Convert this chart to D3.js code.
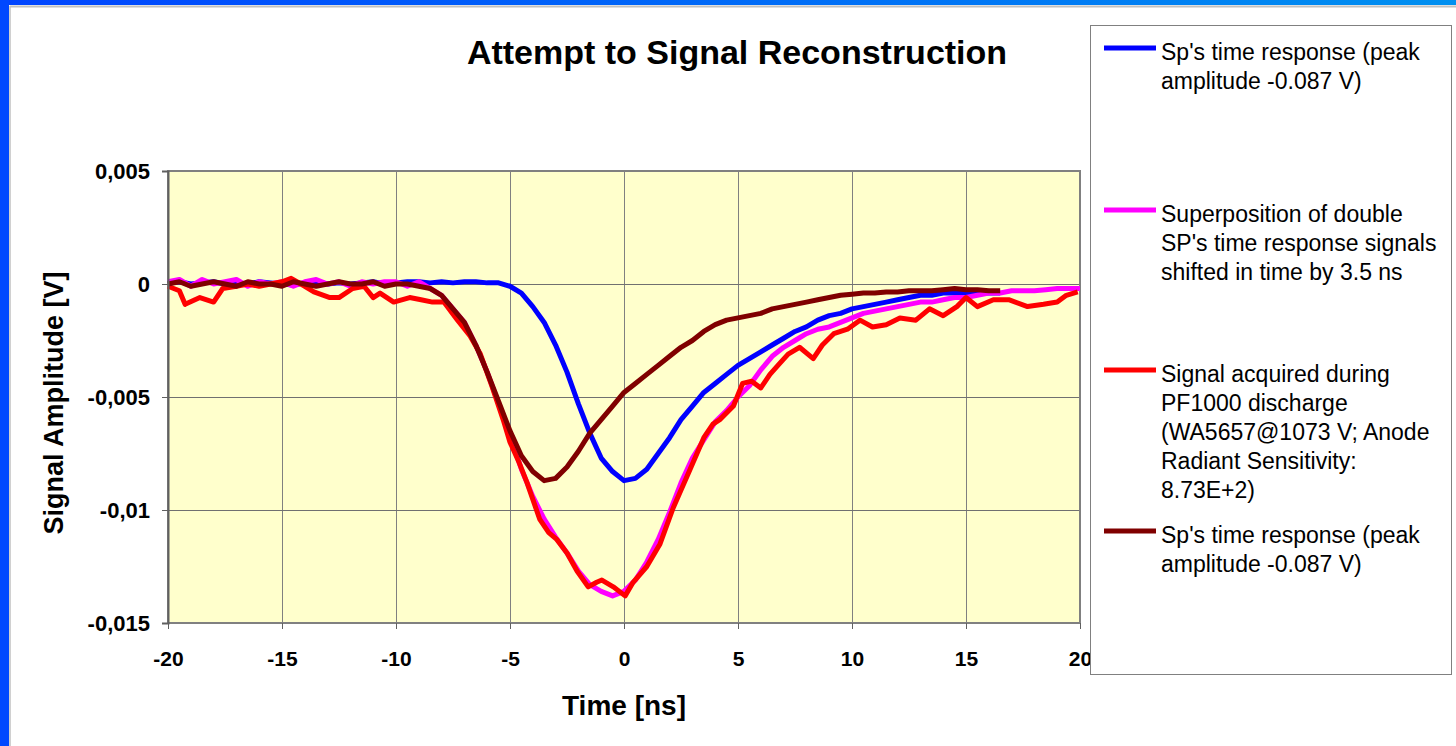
<!DOCTYPE html>
<html lang="en">
	<head>
		<meta charset="utf-8">
		<title>Attempt to Signal Reconstruction</title>
		<script src="https://d3js.org/d3.v7.min.js" charset="utf-8"></script>
		<style type="text/css">
			body { margin: 0; background: #fff; }
			text { font-family: "Liberation Sans", Arial, sans-serif; }
		</style>
	</head>
	<body>
		<div id="main"></div>

		<script type="text/javascript">

			// [time ns, amplitude V]
			var spResponse = [
				[-20,0.00005],[-19.5,0.0001],[-19,0],[-18.5,0.00005],[-18,0.0001],[-17.5,0],[-17,0.00005],[-16.5,0],
				[-16,0.0001],[-15.5,0.00005],[-15,0],[-14.5,-0.00005],[-14,0.00005],[-13.5,0.0001],[-13,0],[-12.5,0.00005],
				[-12,0],[-11.5,0.00005],[-11,0.0001],[-10.5,0],[-10,0.00005],[-9.5,0.0001],[-9,0.0001],[-8.5,0.00005],
				[-8,0.0001],[-7.5,0.00005],[-7,0.0001],[-6.5,0.0001],[-6,0.00005],[-5.5,0.00005],[-5,-0.0001],[-4.5,-0.0004],
				[-4,-0.001],[-3.5,-0.0017],[-3,-0.0027],[-2.5,-0.0039],[-2,-0.0053],[-1.5,-0.0066],[-1,-0.0077],[-0.5,-0.0083],
				[0,-0.0087],[0.5,-0.0086],[1,-0.0082],[1.5,-0.0075],[2,-0.0068],[2.5,-0.006],[3,-0.0054],[3.5,-0.0048],
				[4,-0.0044],[4.5,-0.004],[5,-0.0036],[5.5,-0.0033],[6,-0.003],[6.5,-0.0027],[7,-0.0024],[7.5,-0.0021],
				[8,-0.0019],[8.5,-0.0016],[9,-0.0014],[9.5,-0.0013],[10,-0.0011],[10.5,-0.001],[11,-0.0009],[11.5,-0.0008],
				[12,-0.0007],[12.5,-0.0006],[13,-0.0005],[13.5,-0.0005],[14,-0.0004],[14.5,-0.0004],[15,-0.0004],[15.5,-0.0004],
				[16,-0.0004],[16.5,-0.0004]
			];

			var superposition = [
				[-20,0.0001],[-19.5,0.0002],[-19,-0.0001],[-18.5,0.0002],[-18,0],[-17.5,0.0001],[-17,0.0002],[-16.5,-0.0001],
				[-16,0.0001],[-15.5,0],[-15,0.0001],[-14.5,-0.0001],[-14,0.0001],[-13.5,0.0002],[-13,0],[-12.5,0.0001],
				[-12,-0.0001],[-11.5,0.0001],[-11,0],[-10.5,0.0001],[-10,0.0001],[-9.5,-0.0001],[-9,0.0001],[-8.5,-0.0002],
				[-8,-0.0005],[-7.5,-0.0011],[-7,-0.0017],[-6.5,-0.0027],[-6,-0.0039],[-5.5,-0.0053],[-5,-0.0067],[-4.5,-0.0082],
				[-4,-0.0094],[-3.5,-0.0104],[-3,-0.0112],[-2.5,-0.0119],[-2,-0.0127],[-1.5,-0.0133],[-1,-0.0136],[-0.5,-0.0138],
				[0,-0.0136],[0.5,-0.0131],[1,-0.0123],[1.5,-0.0113],[2,-0.0101],[2.5,-0.0088],[3,-0.0077],[3.5,-0.0069],
				[4,-0.0061],[4.5,-0.0056],[5,-0.005],[5.5,-0.0045],[6,-0.0038],[6.5,-0.0032],[7,-0.0028],[7.5,-0.0025],
				[8,-0.0022],[8.5,-0.002],[9,-0.0019],[9.5,-0.0017],[10,-0.0015],[10.5,-0.0013],[11,-0.0012],[11.5,-0.0011],
				[12,-0.001],[12.5,-0.0009],[13,-0.0008],[13.5,-0.0008],[14,-0.0007],[14.5,-0.0006],[15,-0.0006],[15.5,-0.0005],
				[16,-0.0004],[16.5,-0.0004],[17,-0.0003],[17.5,-0.0003],[18,-0.0003],[18.5,-0.00025],[19,-0.0002],[19.5,-0.0002],
				[20,-0.0002]
			];

			var acquired = [
				[-20,-0.0001],[-19.5,-0.0003],[-19.25,-0.0009],[-18.6,-0.0006],[-18,-0.0008],[-17.6,-0.0002],[-17,-0.0001],[-16.5,0],
				[-16,-0.0001],[-15.5,0],[-15,0.0001],[-14.6,0.00025],[-14,-0.0001],[-13.6,-0.00035],[-12.9,-0.0006],[-12.5,-0.0006],
				[-11.9,-0.0002],[-11.4,-0.0001],[-11,-0.0006],[-10.7,-0.0004],[-10.1,-0.0008],[-9.4,-0.0006],[-8.9,-0.0007],[-8.4,-0.0008],
				[-7.9,-0.0008],[-7.3,-0.0016],[-6.75,-0.0023],[-6.3,-0.0031],[-5.8,-0.0045],[-5.3,-0.006],[-5,-0.007],[-4.6,-0.0079],
				[-4.25,-0.0088],[-3.7,-0.0104],[-3.3,-0.011],[-2.95,-0.0113],[-2.5,-0.0119],[-2.06,-0.0127],[-1.57,-0.0134],[-1.2,-0.0132],
				[-0.97,-0.0131],[-0.47,-0.0134],[0.05,-0.0138],[0.4,-0.0132],[1,-0.0125],[1.58,-0.0115],[2.16,-0.0099],[2.9,-0.0082],
				[3.2,-0.0075],[3.5,-0.0068],[3.9,-0.0062],[4.2,-0.006],[4.8,-0.0054],[5.2,-0.0044],[5.6,-0.0043],[6,-0.0046],
				[6.4,-0.004],[6.84,-0.0035],[7.2,-0.0031],[7.7,-0.0028],[8.3,-0.0033],[8.7,-0.0027],[9.2,-0.0022],[9.8,-0.002],
				[10.35,-0.0016],[10.9,-0.0019],[11.5,-0.0018],[12.1,-0.0015],[12.8,-0.0016],[13.4,-0.0011],[14,-0.0014],[14.6,-0.001],
				[15,-0.0006],[15.5,-0.001],[16.2,-0.0007],[16.9,-0.0007],[17.7,-0.001],[18.4,-0.0009],[19,-0.0008],[19.4,-0.0005],
				[19.9,-0.00035]
			];

			var spShifted = [
				[-20,0],[-19.5,0.0001],[-19,-0.0001],[-18.5,0],[-18,0.0001],[-17.5,0],[-17,-0.0001],[-16.5,0.0001],
				[-16,0],[-15.5,0],[-15,-0.0001],[-14.5,0.0001],[-14,0],[-13.5,-0.0001],[-13,0],[-12.5,0.0001],
				[-12,0],[-11.5,0],[-11,0.0001],[-10.5,-0.0001],[-10,0],[-9.5,0],[-9,-0.0001],[-8.5,-0.0002],
				[-8,-0.0005],[-7.5,-0.0011],[-7,-0.0017],[-6.5,-0.0027],[-6,-0.0039],[-5.5,-0.0052],[-5,-0.0065],[-4.5,-0.0076],
				[-4,-0.0083],[-3.5,-0.0087],[-3,-0.0086],[-2.5,-0.0081],[-2,-0.0074],[-1.5,-0.0066],[-1,-0.006],[-0.5,-0.0054],
				[0,-0.0048],[0.5,-0.0044],[1,-0.004],[1.5,-0.0036],[2,-0.0032],[2.5,-0.0028],[3,-0.0025],[3.5,-0.0021],
				[4,-0.0018],[4.5,-0.0016],[5,-0.0015],[5.5,-0.0014],[6,-0.0013],[6.5,-0.0011],[7,-0.001],[7.5,-0.0009],
				[8,-0.0008],[8.5,-0.0007],[9,-0.0006],[9.5,-0.0005],[10,-0.00045],[10.5,-0.0004],[11,-0.0004],[11.5,-0.00035],
				[12,-0.00035],[12.5,-0.0003],[13,-0.0003],[13.5,-0.0003],[14,-0.00025],[14.5,-0.0002],[15,-0.00025],[15.5,-0.00025],
				[16,-0.0003],[16.5,-0.0003]
			];

			var seriesNames = [
				["Sp's time response (peak", "amplitude -0.087 V)"],
				["Superposition of double", "SP's time response signals", "shifted in time by 3.5 ns"],
				["Signal acquired during", "PF1000 discharge", "(WA5657@1073 V; Anode", "Radiant Sensitivity:", "8.73E+2)"],
				["Sp's time response (peak", "amplitude -0.087 V)"]
			];
			var seriesColors = ["#0000ff", "#ff00ff", "#ff0000", "#800000"];
			var xTicks = [-20, -15, -10, -5, 0, 5, 10, 15, 20];
			var xTickLabels = ["-20", "-15", "-10", "-5", "0", "5", "10", "15", "20"];
			var yTicks = [0.005, 0, -0.005, -0.01, -0.015];
			var yTickLabels = ["0,005", "0", "-0,005", "-0,01", "-0,015"];

			var allSeries = [spResponse, superposition, acquired, spShifted];

			var w = 1456;
			var h = 746;
			var plot = {left: 168, right: 1080, top: 171, bottom: 623};

			var svg = d3.select("#main")
						.append("svg")
						.attr("width", w)
						.attr("height", h);

			// window frame
			var grad = svg.append("defs").append("linearGradient")
				.attr("id", "bar").attr("x1", "0").attr("x2", "1");
			grad.append("stop").attr("offset", "0").attr("stop-color", "#0044ff");
			grad.append("stop").attr("offset", "1").attr("stop-color", "#0090f0");

			svg.append("rect").attr("x", 0).attr("y", 0).attr("width", w).attr("height", h).attr("fill", "#fff");
			svg.append("rect").attr("x", 0).attr("y", 0).attr("width", w).attr("height", 5).attr("fill", "url(#bar)");
			svg.append("rect").attr("x", 0).attr("y", 0).attr("width", 9).attr("height", h).attr("fill", "#0048ff");
			svg.append("line").attr("x1", 10).attr("x2", w).attr("y1", 6.5).attr("y2", 6.5)
				.attr("stroke", "#c0c0c0").attr("stroke-width", 2);
			svg.append("line").attr("x1", 10).attr("x2", 10).attr("y1", 6).attr("y2", h)
				.attr("stroke", "#c0c0c0").attr("stroke-width", 1.5);

			var x = d3.scaleLinear().domain([-20, 20]).range([plot.left, plot.right]);
			var y = d3.scaleLinear().domain([-0.015, 0.005]).range([plot.bottom, plot.top]);

			// plot area
			svg.append("rect")
				.attr("x", plot.left).attr("y", plot.top)
				.attr("width", plot.right - plot.left).attr("height", plot.bottom - plot.top)
				.attr("fill", "#ffffcc");

			svg.selectAll(".vgrid")
				.data(xTicks.slice(1, -1))
				.enter()
				.append("line")
				.attr("x1", function(d) { return Math.round(x(d)) + 0.5; })
				.attr("x2", function(d) { return Math.round(x(d)) + 0.5; })
				.attr("y1", plot.top).attr("y2", plot.bottom)
				.attr("stroke", "#808080").attr("stroke-width", 1);

			svg.selectAll(".hgrid")
				.data(yTicks.slice(1, -1))
				.enter()
				.append("line")
				.attr("x1", plot.left).attr("x2", plot.right)
				.attr("y1", function(d) { return Math.round(y(d)) + 0.5; })
				.attr("y2", function(d) { return Math.round(y(d)) + 0.5; })
				.attr("stroke", "#707070").attr("stroke-width", 1);

			svg.append("rect")
				.attr("x", plot.left).attr("y", plot.top)
				.attr("width", plot.right - plot.left).attr("height", plot.bottom - plot.top)
				.attr("fill", "none").attr("stroke", "#808080").attr("stroke-width", 2);

			// series
			var line = d3.line()
				.x(function(d) { return x(d[0]); })
				.y(function(d) { return y(d[1]); });

			svg.selectAll(".series")
				.data(allSeries)
				.enter()
				.append("path")
				.attr("d", line)
				.attr("fill", "none")
				.attr("stroke", function(d, i) { return seriesColors[i]; })
				.attr("stroke-width", 5)
				.attr("stroke-linejoin", "round");

			// axes
			var xAxis = d3.axisBottom(x).tickValues(xTicks).tickSize(6).tickPadding(22)
				.tickFormat(function(d, i) { return xTickLabels[i]; });
			var gx = svg.append("g")
				.attr("transform", "translate(0," + plot.bottom + ")")
				.call(xAxis);
			gx.select(".domain").remove();
			gx.selectAll("line").attr("stroke", "#606060");
			gx.selectAll("text")
				.attr("font-size", 21).attr("font-weight", "bold").attr("fill", "#000")
				.attr("font-family", "Liberation Sans, Arial, sans-serif");

			var yAxis = d3.axisLeft(y).tickValues(yTicks).tickSize(6).tickPadding(12)
				.tickFormat(function(d, i) { return yTickLabels[i]; });
			var gy = svg.append("g")
				.attr("transform", "translate(" + plot.left + ",0)")
				.call(yAxis);
			gy.select(".domain").attr("stroke", "#606060").attr("stroke-width", 2);
			gy.selectAll("line").attr("stroke", "#606060");
			gy.selectAll("text")
				.attr("font-size", 22).attr("font-weight", "bold").attr("fill", "#000")
				.attr("font-family", "Liberation Sans, Arial, sans-serif");

			// titles
			svg.append("text")
				.attr("x", 737).attr("y", 64)
				.attr("text-anchor", "middle")
				.attr("font-size", 34).attr("font-weight", "bold")
				.text("Attempt to Signal Reconstruction");

			svg.append("text")
				.attr("x", 624).attr("y", 715)
				.attr("text-anchor", "middle")
				.attr("font-size", 28).attr("font-weight", "bold")
				.text("Time [ns]");

			svg.append("text")
				.attr("transform", "translate(63,403) rotate(-90)")
				.attr("text-anchor", "middle")
				.attr("font-size", 27).attr("font-weight", "bold")
				.text("Signal Amplitude [V]");

			// legend
			var legendTop = [48, 210, 370, 531];
			svg.append("rect")
				.attr("x", 1090.5).attr("y", 25.5).attr("width", 361).attr("height", 649)
				.attr("fill", "#fff").attr("stroke", "#808080").attr("stroke-width", 1);

			var entry = svg.selectAll(".legend")
				.data(seriesNames)
				.enter()
				.append("g")
				.attr("transform", function(d, i) { return "translate(1104," + legendTop[i] + ")"; });

			entry.append("line")
				.attr("x1", 0).attr("x2", 52).attr("y1", 0).attr("y2", 0)
				.attr("stroke", function(d, i) { return seriesColors[i]; })
				.attr("stroke-width", 5);

			entry.selectAll("text")
				.data(function(d) { return d; })
				.enter()
				.append("text")
				.attr("x", 57)
				.attr("y", function(d, j) { return 12 + j * 29; })
				.attr("font-size", 23)
				.text(function(d) { return d; });

		</script>
	</body>
</html>
